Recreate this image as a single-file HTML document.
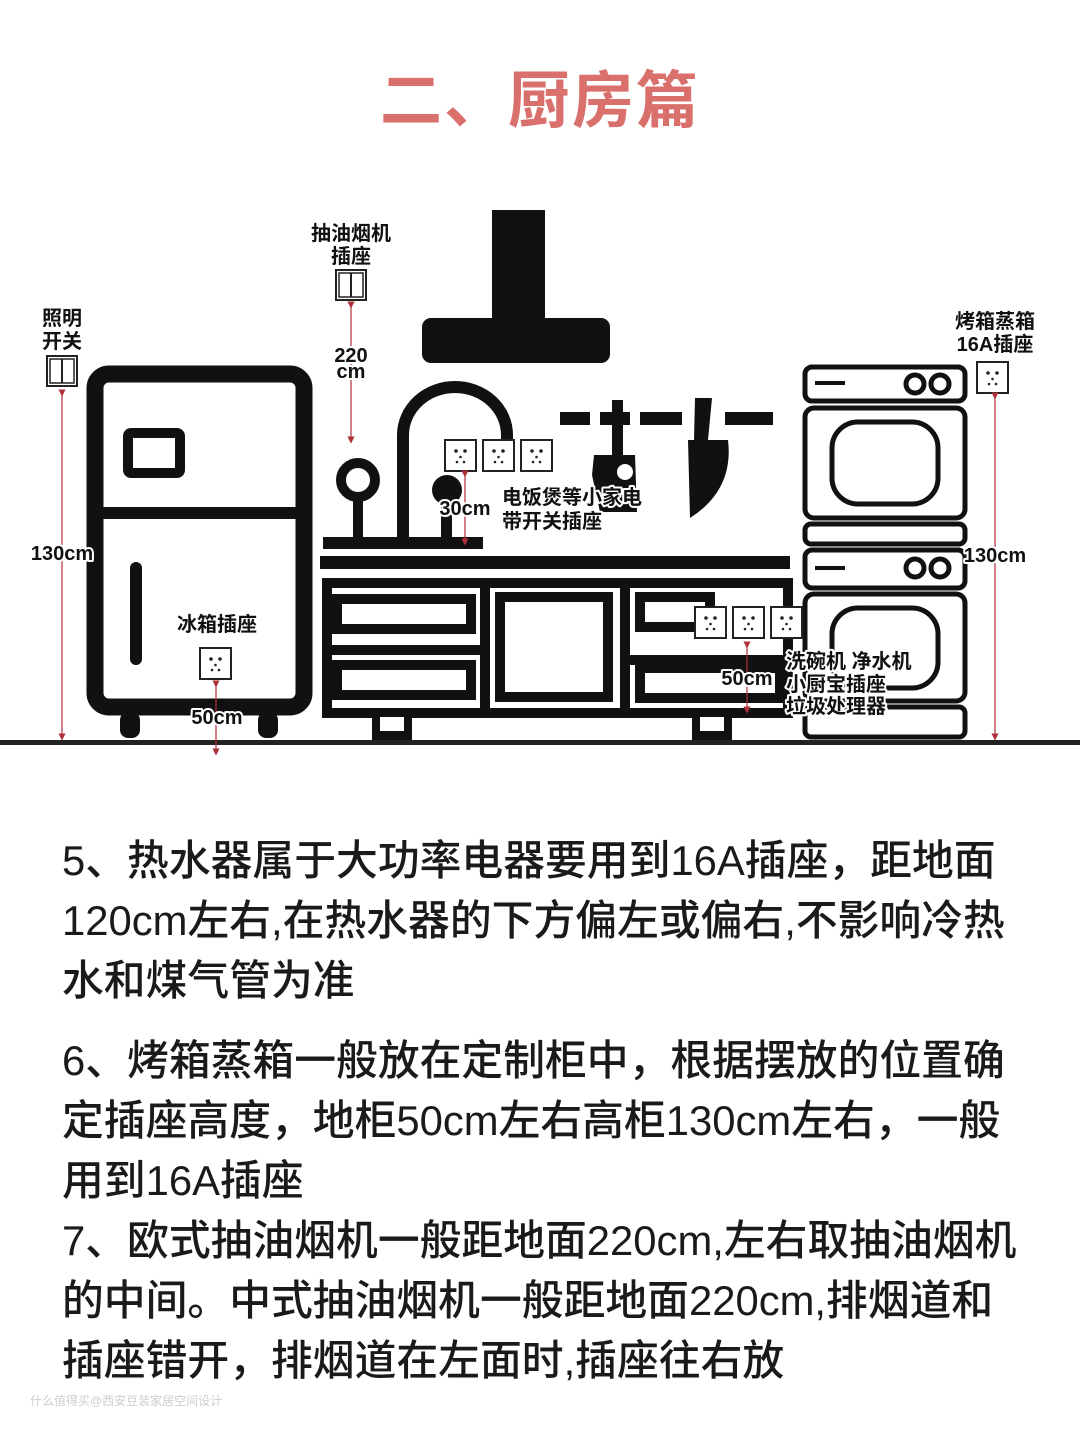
<!DOCTYPE html>
<html><head><meta charset="utf-8"><style>
html,body{margin:0;padding:0;background:#fff;}
body{width:1080px;height:1440px;position:relative;overflow:hidden;font-family:"Liberation Sans","Noto Sans CJK SC",sans-serif;}
.title{position:absolute;left:0;width:1080px;top:50px;text-align:center;font-size:62px;font-weight:bold;color:#d9706c;letter-spacing:2px;}
.p{position:absolute;left:62px;font-size:41.8px;color:#1a1a1a;white-space:nowrap;font-weight:500;}
svg text{font-family:"Liberation Sans","Noto Sans CJK SC",sans-serif;font-weight:bold;paint-order:stroke;stroke:#fff;stroke-width:4px;stroke-linejoin:round;fill:#111;}
.wm{position:absolute;left:30px;top:1392px;font-size:12px;color:#ccc;}
</style></head><body>
<div class="title">二、厨房篇</div>
<svg width="1080" height="760" style="position:absolute;left:0;top:0" xmlns="http://www.w3.org/2000/svg">
<defs>
<marker id="a" markerWidth="6" markerHeight="6" refX="3" refY="3" orient="auto"><path d="M0,0 L6,3 L0,6z" fill="#b0303a"/></marker>
<g id="out"><rect x="0" y="0" width="31" height="31" fill="#fff" stroke="#222" stroke-width="2"/><circle cx="11" cy="11" r="1.8" fill="#222"/><circle cx="20" cy="11" r="1.8" fill="#222"/><circle cx="15.5" cy="17" r="1.3" fill="#222"/><circle cx="12" cy="22" r="1.3" fill="#222"/><circle cx="19" cy="22" r="1.3" fill="#222"/></g>
<g id="sw"><rect x="0" y="0" width="30" height="30" fill="#fff" stroke="#222" stroke-width="2"/><rect x="3" y="3" width="24" height="24" fill="none" stroke="#222" stroke-width="1.5"/><line x1="15" y1="3" x2="15" y2="27" stroke="#222" stroke-width="2"/></g>
</defs>
<rect x="0" y="740" width="1080" height="5" fill="#222"/>
<rect x="95" y="374" width="209" height="333" rx="14" fill="#fff" stroke="#111" stroke-width="17"/>
<rect x="95" y="507" width="209" height="12" fill="#111"/>
<rect x="128" y="433" width="52" height="40" rx="3" fill="#fff" stroke="#111" stroke-width="10"/>
<rect x="130" y="562" width="12" height="103" rx="6" fill="#111"/>
<rect x="120" y="712" width="20" height="26" rx="8" fill="#111"/>
<rect x="258" y="712" width="20" height="26" rx="8" fill="#111"/>
<rect x="492" y="210" width="53" height="130" fill="#111"/>
<rect x="422" y="318" width="188" height="45" rx="9" fill="#111"/>
<path d="M403,545 L403,435 A52,48 0 0 1 507,435 L507,440" fill="none" stroke="#111" stroke-width="12"/>
<circle cx="358" cy="480" r="17" fill="#fff" stroke="#111" stroke-width="10"/>
<rect x="353" y="495" width="10" height="50" fill="#111"/>
<circle cx="447" cy="490" r="15" fill="#111"/>
<rect x="441" y="495" width="11" height="50" fill="#111"/>
<rect x="323" y="537" width="160" height="12" fill="#111"/>
<rect x="320" y="556" width="470" height="13" fill="#111"/>
<rect x="327" y="583" width="461" height="130" fill="#fff" stroke="#111" stroke-width="10"/>
<rect x="480" y="583" width="10" height="130" fill="#111"/>
<rect x="620" y="583" width="10" height="130" fill="#111"/>
<rect x="327" y="645" width="155" height="10" fill="#111"/>
<rect x="627" y="655" width="160" height="10" fill="#111"/>
<rect x="337" y="599" width="134" height="30" fill="none" stroke="#111" stroke-width="10"/>
<rect x="337" y="665" width="134" height="30" fill="none" stroke="#111" stroke-width="10"/>
<rect x="500" y="597" width="108" height="100" fill="none" stroke="#111" stroke-width="10"/>
<rect x="640" y="597" width="70" height="30" fill="none" stroke="#111" stroke-width="10"/>
<rect x="640" y="668" width="140" height="30" fill="none" stroke="#111" stroke-width="10"/>
<rect x="372" y="713" width="40" height="27" fill="#111"/><rect x="380" y="717" width="24" height="14" fill="#fff"/>
<rect x="692" y="713" width="40" height="27" fill="#111"/><rect x="700" y="717" width="24" height="14" fill="#fff"/>
<rect x="560" y="412" width="30" height="13" fill="#111"/>
<rect x="600" y="412" width="30" height="13" fill="#111"/>
<rect x="640" y="412" width="42" height="13" fill="#111"/>
<rect x="725" y="412" width="48" height="13" fill="#111"/>
<rect x="612" y="400" width="11" height="58" fill="#111"/>
<path d="M594,455 L635,455 L637,512 L600,512 L592,475z" fill="#111"/>
<circle cx="625" cy="472" r="8" fill="#fff"/>
<path d="M695,398 L712,398 L708,440 L728,440 Q734,490 690,518 L688,440 L694,440z" fill="#111"/>
<g fill="#fff" stroke="#111" stroke-width="5">
<rect x="805" y="367" width="160" height="34" rx="7"/>
<rect x="805" y="408" width="160" height="110" rx="9"/>
<rect x="832" y="422" width="106" height="82" rx="26"/>
<rect x="805" y="524" width="160" height="20" rx="6"/>
<rect x="805" y="550" width="160" height="38" rx="7"/>
<rect x="805" y="594" width="160" height="107" rx="9"/>
<rect x="832" y="608" width="106" height="80" rx="26"/>
<rect x="805" y="707" width="160" height="30" rx="6"/>
<circle cx="915" cy="384" r="9"/><circle cx="940" cy="384" r="9"/>
<circle cx="915" cy="568" r="9"/><circle cx="940" cy="568" r="9"/>
</g>
<rect x="815" y="381" width="30" height="4" fill="#111"/>
<rect x="815" y="566" width="30" height="4" fill="#111"/>
<use href="#sw" x="47" y="356"/>
<use href="#sw" x="336" y="270"/>
<use href="#out" x="445" y="440"/><use href="#out" x="483" y="440"/><use href="#out" x="521" y="440"/>
<use href="#out" x="200" y="648"/>
<use href="#out" x="977" y="362"/>
<use href="#out" x="695" y="607"/><use href="#out" x="733" y="607"/><use href="#out" x="771" y="607"/>
<g stroke="#b0303a" stroke-width="1.2" marker-start="url(#a)" marker-end="url(#a)">
<line x1="62" y1="393" x2="62" y2="737"/>
<line x1="351" y1="305" x2="351" y2="440"/>
<line x1="465" y1="474" x2="465" y2="542"/>
<line x1="216" y1="684" x2="216" y2="752"/>
<line x1="995" y1="396" x2="995" y2="737"/>
<line x1="747" y1="645" x2="747" y2="710"/>
</g>
<g font-size="20" text-anchor="middle">
<text x="62" y="325">照明</text><text x="62" y="348">开关</text>
<text x="351" y="240">抽油烟机</text><text x="351" y="263">插座</text>
<text x="351" y="362">220</text><text x="351" y="378">cm</text>
<text x="62" y="560">130cm</text>
<text x="465" y="515">30cm</text>
<text x="217" y="631">冰箱插座</text>
<text x="217" y="724">50cm</text>
<text x="995" y="328">烤箱蒸箱</text><text x="995" y="351">16A插座</text>
<text x="995" y="562">130cm</text>
<text x="747" y="685">50cm</text>
</g>
<g font-size="20">
<text x="502" y="504">电饭煲等小家电</text><text x="502" y="528">带开关插座</text>
<text x="786" y="668">洗碗机 净水机</text><text x="786" y="691">小厨宝插座</text><text x="786" y="713">垃圾处理器</text>
</g>
</svg>
<div class="p" style="top:828px">5、热水器属于大功率电器要用到16A插座，距地面</div>
<div class="p" style="top:888px">120cm左右,在热水器的下方偏左或偏右,不影响冷热</div>
<div class="p" style="top:948px">水和煤气管为准</div>
<div class="p" style="top:1028px">6、烤箱蒸箱一般放在定制柜中，根据摆放的位置确</div>
<div class="p" style="top:1088px">定插座高度，地柜50cm左右高柜130cm左右，一般</div>
<div class="p" style="top:1148px">用到16A插座</div>
<div class="p" style="top:1208px">7、欧式抽油烟机一般距地面220cm,左右取抽油烟机</div>
<div class="p" style="top:1268px">的中间。中式抽油烟机一般距地面220cm,排烟道和</div>
<div class="p" style="top:1328px">插座错开，排烟道在左面时,插座往右放</div>
<div class="wm">什么值得买@西安豆装家居空间设计</div>
</body></html>
